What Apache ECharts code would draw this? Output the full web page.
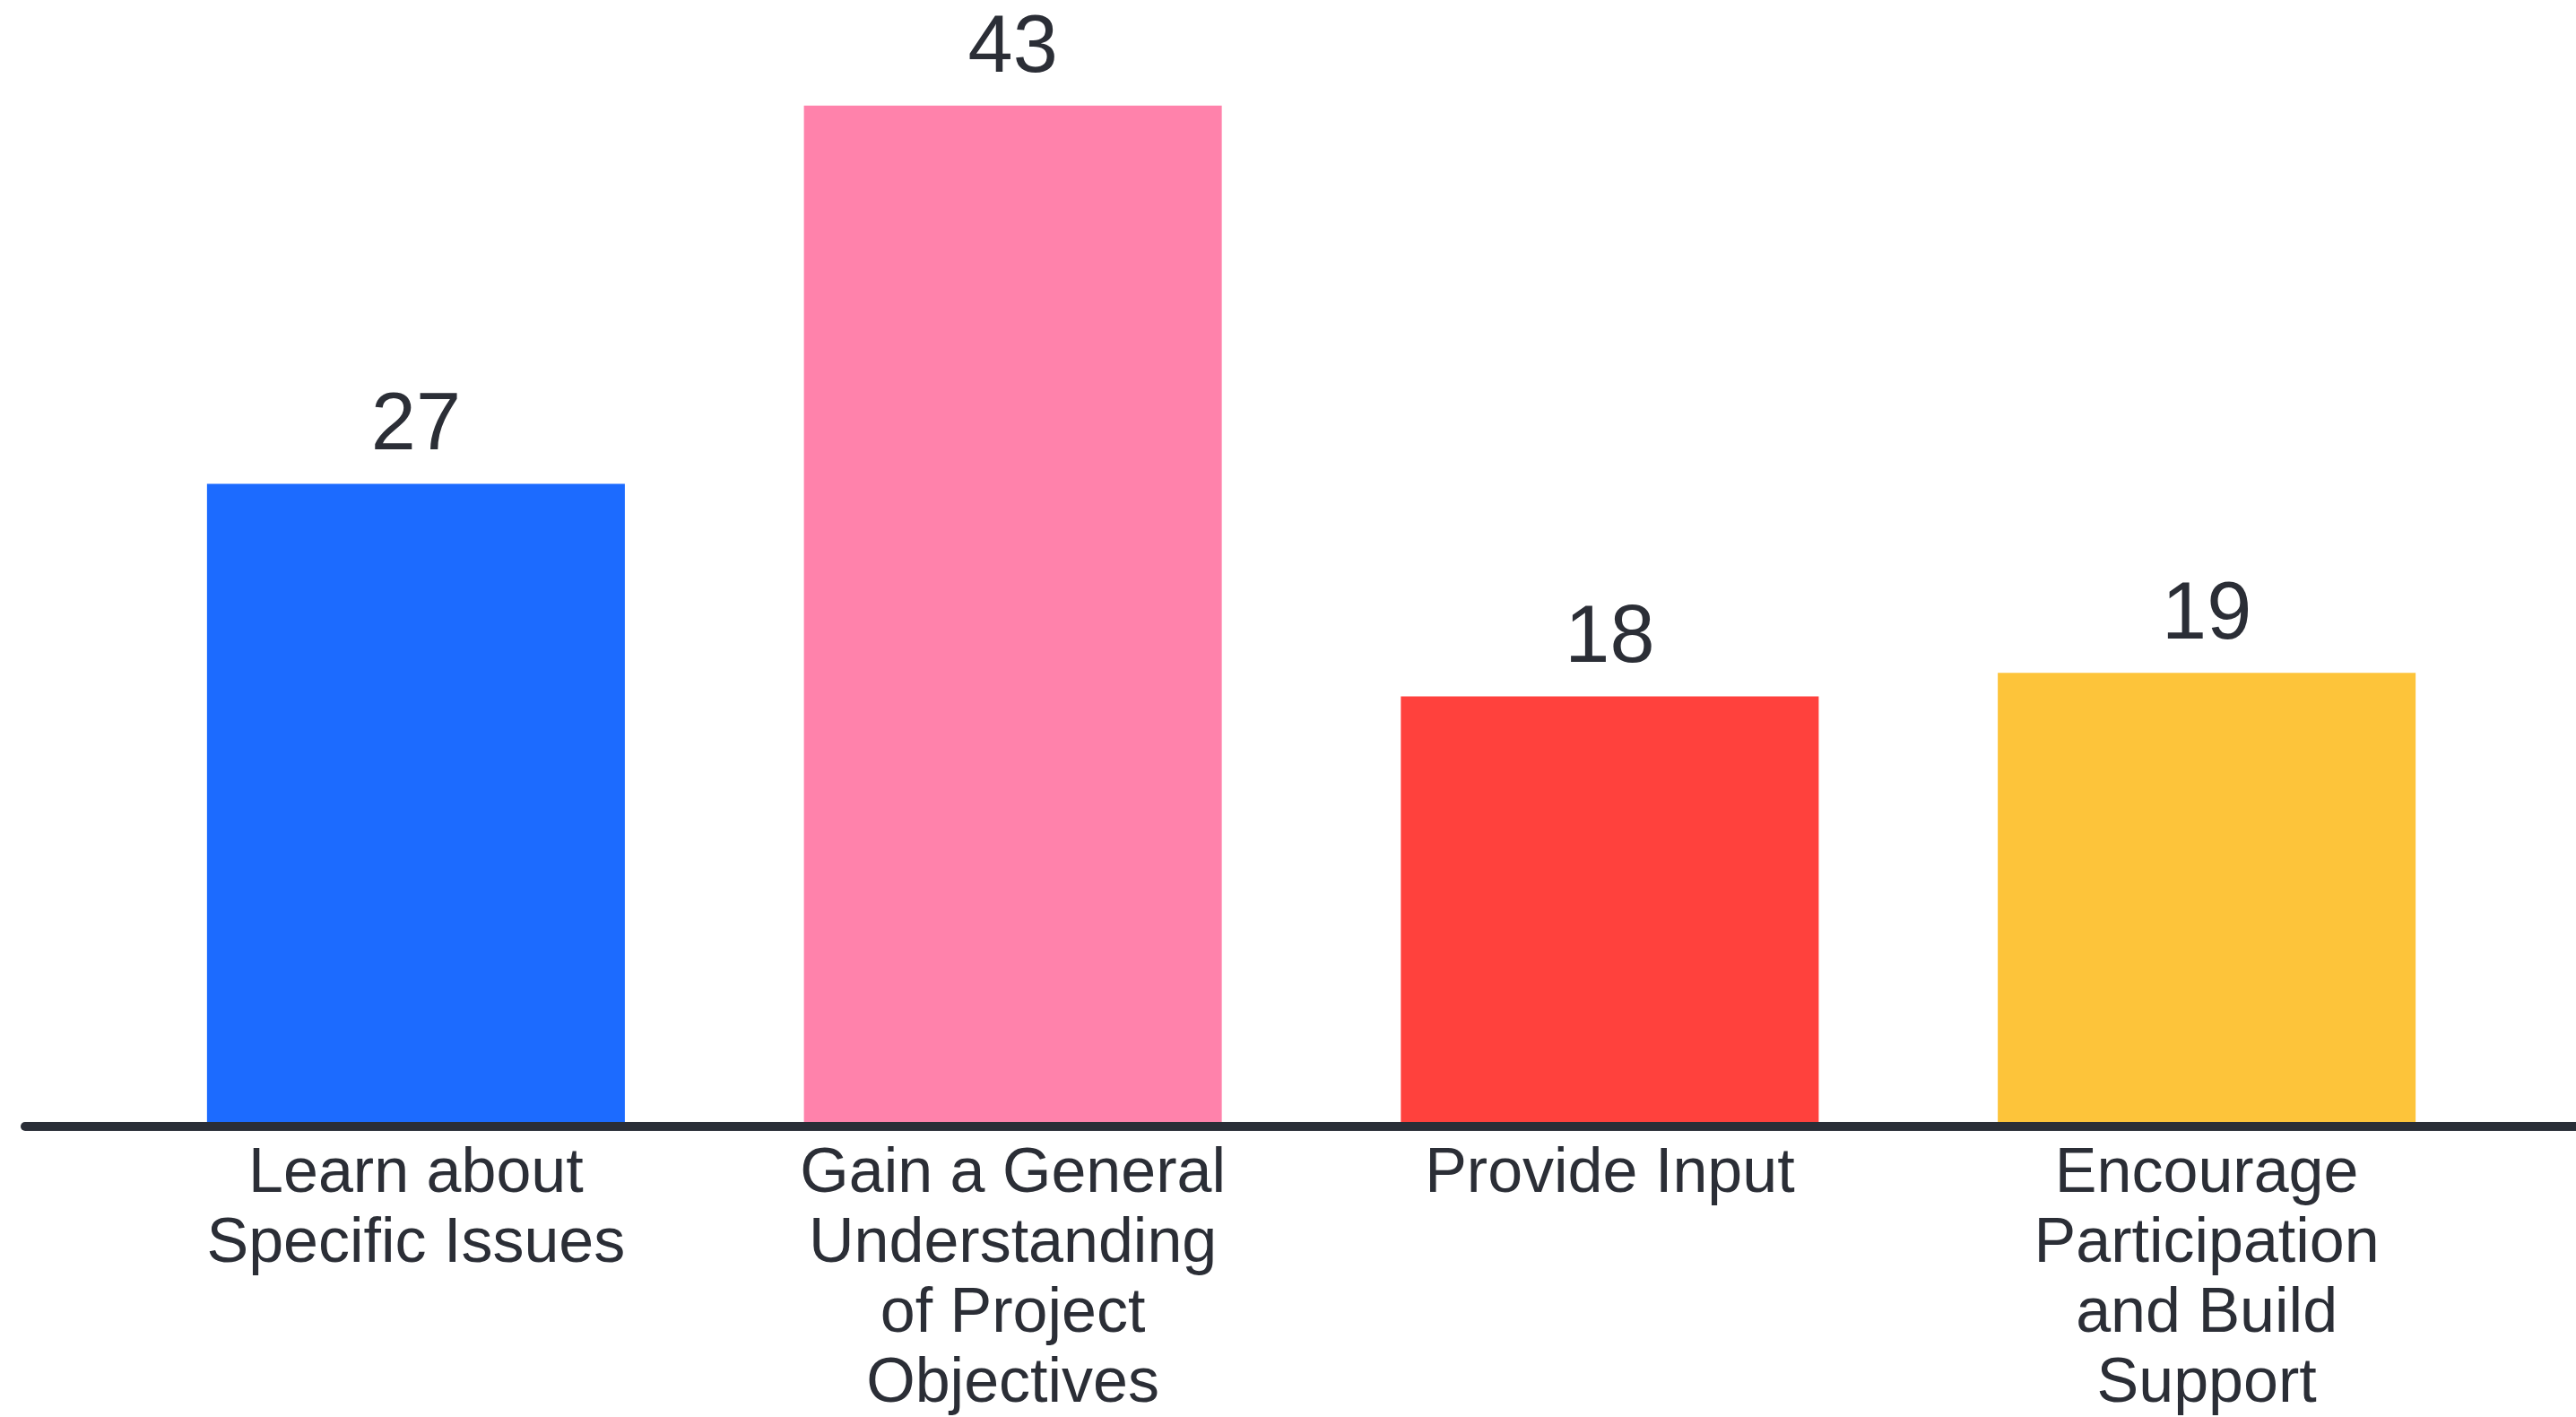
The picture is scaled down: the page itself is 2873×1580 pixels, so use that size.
<!DOCTYPE html>
<html>
<head>
<meta charset="utf-8">
<script src="https://cdn.jsdelivr.net/npm/echarts@6/dist/echarts.min.js"></script>
<style>
html,body{margin:0;padding:0;background:#fff;}
#chart{width:2873px;height:1580px;}
</style>
</head>
<body>
<div id="chart"></div>
<script>
const categories = [
  "Learn about\nSpecific Issues",
  "Gain a General\nUnderstanding\nof Project\nObjectives",
  "Provide Input",
  "Encourage\nParticipation\nand Build\nSupport"
];
const values = [27, 43, 18, 19];
const barColors = ["#1c6bff", "#ff82ab", "#ff413d", "#fdc43a"];

const textColor = "#2b2e36";
const chart = echarts.init(document.getElementById('chart'), null, {renderer: 'canvas'});
chart.setOption({
  backgroundColor: '#ffffff',
  animation: false,
  grid: [
    {left: 131, right: 79, top: 65, bottom: 329, containLabel: false, outerBoundsMode: 'none'},
    {left: 28, right: 0, top: 65, bottom: 324, containLabel: false, outerBoundsMode: 'none'}
  ],
  xAxis: [
    {
      type: 'category', gridIndex: 0, data: categories,
      axisLine: {show: false}, axisTick: {show: false},
      axisLabel: {
        interval: 0, margin: 20, color: textColor,
        fontFamily: 'Liberation Sans', fontSize: 70, lineHeight: 78
      }
    },
    {
      type: 'value', gridIndex: 1, min: 0, max: 1, z: 10,
      axisLine: {show: true, onZero: false, lineStyle: {color: '#2a2e37', width: 10}},
      axisTick: {show: false}, axisLabel: {show: false}, splitLine: {show: false}
    }
  ],
  yAxis: [
    {type: 'value', gridIndex: 0, min: 0, max: 45, show: false, splitLine: {show: false}},
    {type: 'value', gridIndex: 1, min: 0, max: 1, show: false, splitLine: {show: false}}
  ],
  series: [{
    type: 'bar', xAxisIndex: 0, yAxisIndex: 0,
    barWidth: '70%',
    data: values.map((v, i) => ({value: v, itemStyle: {color: barColors[i]}})),
    label: {
      show: true, position: 'top', distance: 18,
      color: textColor, fontFamily: 'Liberation Sans', fontSize: 90
    }
  }]
});
</script>
</body>
</html>
